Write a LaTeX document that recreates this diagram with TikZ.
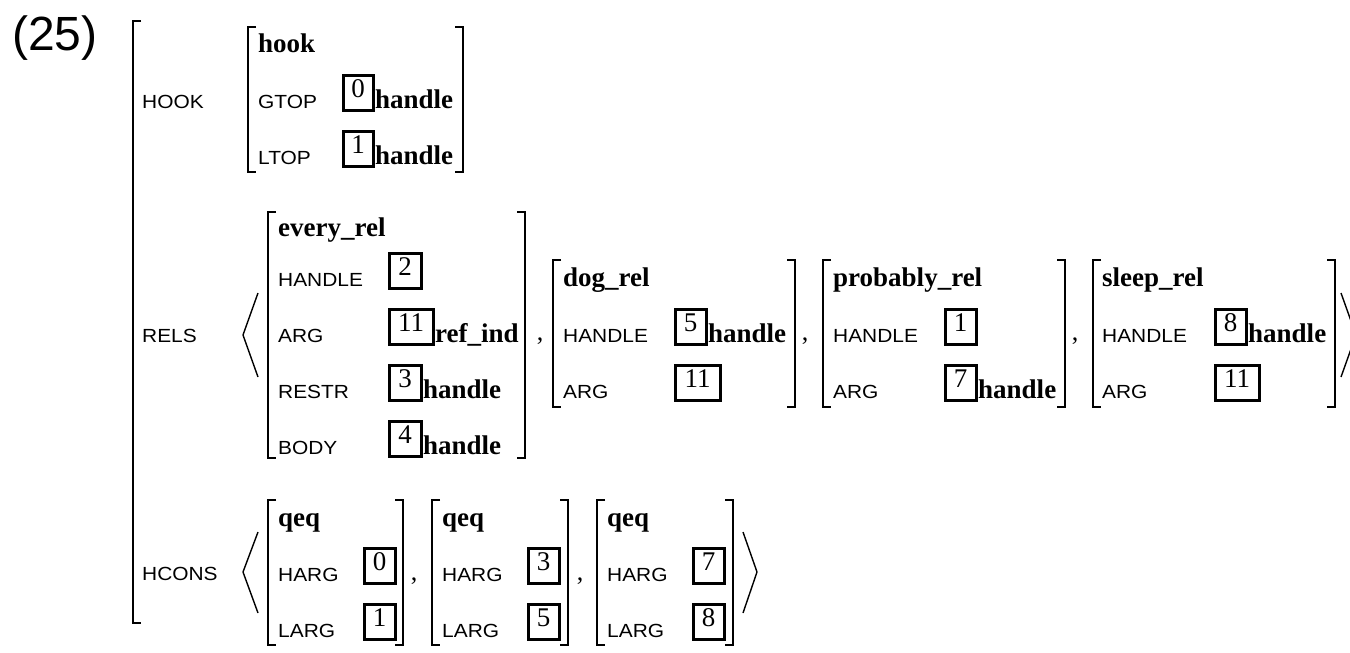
\documentclass[tikz,border=0pt]{standalone}
\usepackage{fontspec}
\setmainfont{Liberation Serif}
\newfontfamily\lblfont[FakeStretch=1.1]{Liberation Sans}
\newfontfamily\exfont{Liberation Sans}
\tikzset{
 lbl/.style={anchor=base west, inner sep=0pt, font=\lblfont\fontsize{19}{19}\selectfont},
 typ/.style={anchor=base west, inner sep=0pt, font=\fontsize{27}{27}\selectfont\bfseries},
 dig/.style={anchor=base, inner sep=0pt, font=\fontsize{27}{27}\selectfont},
 cma/.style={anchor=base, inner sep=0pt, font=\fontsize{26}{26}\selectfont},
 brk/.style={line width=1.8pt},
 tagline/.style={line width=3pt},
 ang/.style={line width=1.4pt, line join=miter},
}
\newcommand\LB[3]{\draw[brk] ({#1+8},#2) -- (#1,#2) -- (#1,#3) -- ({#1+8},#3);}
\newcommand\RB[3]{\draw[brk] ({#1-8},#2) -- (#1,#2) -- (#1,#3) -- ({#1-8},#3);}
\newcommand\TAG[5]{\draw[tagline] (#2,{#3+2}) rectangle ({#2+#4},{#3-33});
 \node[dig] (#1) at ({#2+#4/2},{#3-11}) {#5};}
\begin{document}
\begin{tikzpicture}[x=1pt,y=-1pt]
\useasboundingbox (0,0) rectangle (1350,653);
% example number
\node[anchor=base west, inner sep=0pt, font=\exfont\fontsize{48}{48}\selectfont] (exnum) at (12,50) {(25)};
% outer bracket
\LB{133}{21}{623}
\node[lbl] (HOOKl) at (142,108) {HOOK};
\node[lbl] (RELSl) at (142,342) {RELS};
\node[lbl] (HCONSl) at (142,580) {HCONS};
% ---------- HOOK ----------
\LB{248}{27}{172}\RB{463}{27}{172}
\node[typ] (hookT) at (258,52) {hook};
\node[lbl] (gtopL) at (258,108) {GTOP};
\TAG{gtopD}{343}{108}{30}{0}
\node[typ] (gtopV) at (375,108) {handle};
\node[lbl] (ltopL) at (258,164) {LTOP};
\TAG{ltopD}{343}{164}{30}{1}
\node[typ] (ltopV) at (375,164) {handle};
% ---------- RELS ----------
\draw[ang] (258,293) -- (243,335) -- (258,377);
\draw[ang] (1341,293) -- (1356,335) -- (1341,377);
% every_rel
\LB{268}{212}{458}\RB{525}{212}{458}
\node[typ] (evT) at (278,236) {every\_rel};
\node[lbl] (evHl) at (278,286) {HANDLE};
\TAG{evHd}{389}{286}{32}{2}
\node[lbl] (evAl) at (278,342) {ARG};
\TAG{evAd}{389}{342}{44}{11}
\node[typ] (evAv) at (435,342) {ref\_ind};
\node[lbl] (evRl) at (278,398) {RESTR};
\TAG{evRd}{389}{398}{32}{3}
\node[typ] (evRv) at (423,398) {handle};
\node[lbl] (evBl) at (278,454) {BODY};
\TAG{evBd}{389}{454}{32}{4}
\node[typ] (evBv) at (423,454) {handle};
\node[cma] (c1) at (540,340) {,};
% dog_rel
\LB{553}{260}{407}\RB{795}{260}{407}
\node[typ] (dgT) at (563,286) {dog\_rel};
\node[lbl] (dgHl) at (563,342) {HANDLE};
\TAG{dgHd}{675}{342}{31}{5}
\node[typ] (dgHv) at (708,342) {handle};
\node[lbl] (dgAl) at (563,398) {ARG};
\TAG{dgAd}{675}{398}{45}{11}
\node[cma] (c2) at (805,340) {,};
% probably_rel
\LB{823}{260}{407}\RB{1065}{260}{407}
\node[typ] (prT) at (833,286) {probably\_rel};
\node[lbl] (prHl) at (833,342) {HANDLE};
\TAG{prHd}{945}{342}{31}{1}
\node[lbl] (prAl) at (833,398) {ARG};
\TAG{prAd}{945}{398}{31}{7}
\node[typ] (prAv) at (978,398) {handle};
\node[cma] (c3) at (1075,340) {,};
% sleep_rel
\LB{1093}{260}{407}\RB{1335}{260}{407}
\node[typ] (slT) at (1102,286) {sleep\_rel};
\node[lbl] (slHl) at (1102,342) {HANDLE};
\TAG{slHd}{1215}{342}{31}{8}
\node[typ] (slHv) at (1248,342) {handle};
\node[lbl] (slAl) at (1102,398) {ARG};
\TAG{slAd}{1215}{398}{44}{11}
% ---------- HCONS ----------
\draw[ang] (258,532) -- (243,572) -- (258,613);
\draw[ang] (743,532) -- (757,572) -- (743,613);
% qeq 1
\LB{268}{500}{645}\RB{403}{500}{645}
\node[typ] (q1T) at (278,526) {qeq};
\node[lbl] (q1Hl) at (278,581) {HARG};
\TAG{q1Hd}{364}{581}{31}{0}
\node[lbl] (q1Ll) at (278,637) {LARG};
\TAG{q1Ld}{364}{637}{31}{1}
\node[cma] (c4) at (414,580) {,};
% qeq 2
\LB{432}{500}{645}\RB{568}{500}{645}
\node[typ] (q2T) at (442,526) {qeq};
\node[lbl] (q2Hl) at (442,581) {HARG};
\TAG{q2Hd}{528}{581}{31}{3}
\node[lbl] (q2Ll) at (442,637) {LARG};
\TAG{q2Ld}{528}{637}{31}{5}
\node[cma] (c5) at (580,580) {,};
% qeq 3
\LB{597}{500}{645}\RB{733}{500}{645}
\node[typ] (q3T) at (607,526) {qeq};
\node[lbl] (q3Hl) at (607,581) {HARG};
\TAG{q3Hd}{693}{581}{31}{7}
\node[lbl] (q3Ll) at (607,637) {LARG};
\TAG{q3Ld}{693}{637}{31}{8}
\end{tikzpicture}
\end{document}
